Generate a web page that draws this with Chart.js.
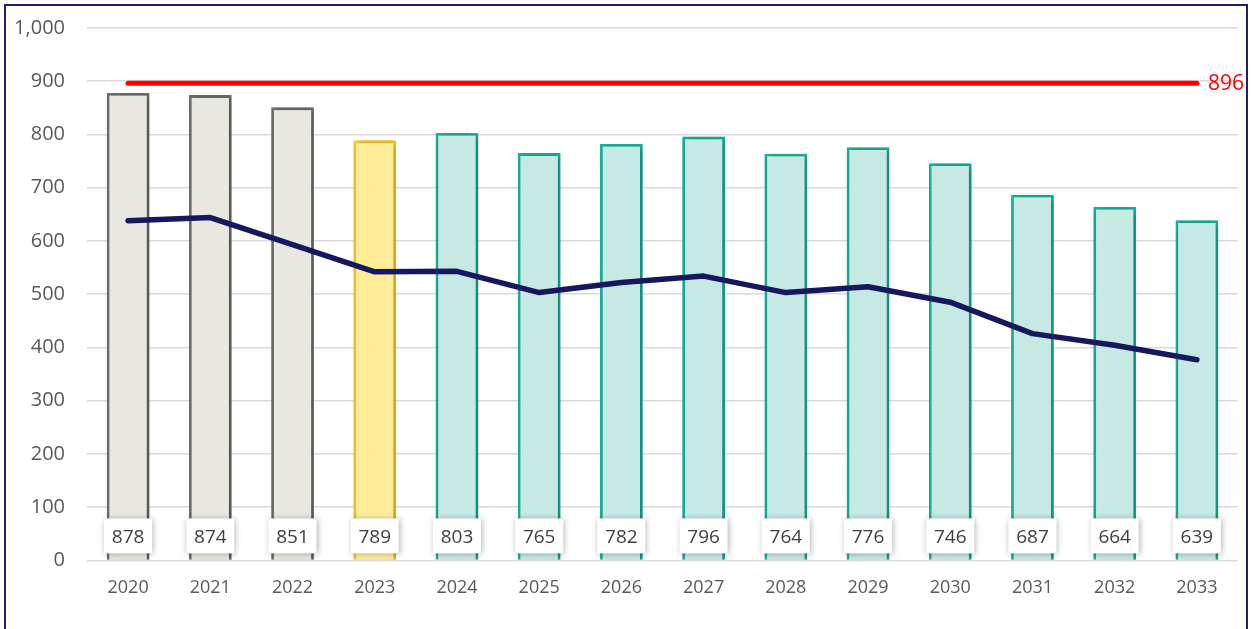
<!DOCTYPE html>
<html>
<head>
<meta charset="utf-8">
<script src="https://cdn.jsdelivr.net/npm/chart.js@4.4.1/dist/chart.umd.min.js"></script>
<style>
  html, body { margin: 0; padding: 0; background: #fff; }
  #wrap { position: absolute; left: 0; top: 0; width: 1254px; height: 629px; }
  #frame { position: absolute; left: 4px; top: 4px; width: 1244px; height: 640px; border: 2px solid #1f1f6b; box-sizing: border-box; pointer-events: none; }
</style>
</head>
<body>
<div id="wrap"><canvas id="chart" width="1254" height="629"></canvas></div>
<div id="frame"></div>
<script>
const years = ['2020', '2021', '2022', '2023', '2024', '2025', '2026', '2027', '2028', '2029', '2030', '2031', '2032', '2033'];
const barValues = [878, 874, 851, 789, 803, 765, 782, 796, 764, 776, 746, 687, 664, 639];
const lineValues = [638, 644, 593, 542, 543, 503, 522, 534, 503, 514, 485, 426, 404, 377];
const targetValue = 896;
const yTicks = [0, 100, 200, 300, 400, 500, 600, 700, 800, 900, 1000];

const fontFamily = '"Open Sans", sans-serif';

// bar colours: actual (grey), current (yellow), forecast (teal)
const fillColors = years.map((y, i) => i < 3 ? '#e8e7e0' : (i === 3 ? '#ffed99' : '#c6e9e3'));
const strokeColors = years.map((y, i) => i < 3 ? '#707070' : (i === 3 ? '#ffd21e' : '#14b8a0'));

const shadowPlugin = {
  id: 'barShadow',
  beforeDatasetDraw(chart, args) {
    if (args.meta.type === 'bar') {
      const ctx = chart.ctx;
      ctx.save();
      ctx.shadowColor = 'rgba(0,0,0,0.35)';
      ctx.shadowBlur = 8;
      ctx.shadowOffsetX = 2;
      ctx.shadowOffsetY = 1;
    }
  },
  afterDatasetDraw(chart, args) {
    if (args.meta.type === 'bar') chart.ctx.restore();
  }
};

const labelPlugin = {
  id: 'valueBoxes',
  afterDatasetsDraw(chart) {
    const ctx = chart.ctx;
    const x = chart.scales.x;
    const bottom = chart.chartArea.bottom;
    ctx.save();
    ctx.font = '19px ' + fontFamily;
    ctx.textAlign = 'center';
    ctx.textBaseline = 'middle';
    barValues.forEach((v, i) => {
      const cx = x.getPixelForValue(i);
      const cy = bottom - 24;
      ctx.save();
      ctx.shadowColor = 'rgba(0,0,0,0.3)';
      ctx.shadowBlur = 6;
      ctx.shadowOffsetX = 1;
      ctx.shadowOffsetY = 1;
      ctx.fillStyle = '#ffffff';
      ctx.fillRect(cx - 24, cy - 18, 48, 35);
      ctx.restore();
      ctx.fillStyle = '#404040';
      ctx.fillText(String(v), cx, cy + 1);
    });
    // target label
    const meta = chart.getDatasetMeta(2);
    const last = meta.data[meta.data.length - 1];
    ctx.fillStyle = '#ff0000';
    ctx.font = '21px ' + fontFamily;
    ctx.textAlign = 'left';
    ctx.fillText(String(targetValue), last.x + 11, last.y + 1);
    ctx.restore();
  }
};

new Chart(document.getElementById('chart'), {
  type: 'bar',
  data: {
    labels: years,
    datasets: [
      {
        type: 'line',
        data: lineValues,
        borderColor: '#16185f',
        borderWidth: 5.5,
        pointRadius: 0,
        borderCapStyle: 'round',
        borderJoinStyle: 'round',
        tension: 0,
        order: 1
      },
      {
        type: 'bar',
        data: barValues,
        backgroundColor: fillColors,
        borderColor: strokeColors,
        borderWidth: 2.8,
        categoryPercentage: 1,
        barPercentage: 0.52,
        order: 3
      },
      {
        type: 'line',
        data: years.map(() => targetValue),
        borderColor: '#ff0000',
        borderWidth: 5,
        pointRadius: 0,
        borderCapStyle: 'round',
        order: 0
      }
    ]
  },
  options: {
    responsive: false,
    animation: false,
    events: [],
    layout: { padding: { top: 28, right: 16, left: 6, bottom: 21 } },
    plugins: { legend: { display: false }, title: { display: false }, tooltip: { enabled: false } },
    scales: {
      x: {
        grid: { display: false },
        border: { display: false },
        ticks: { color: '#595959', font: { family: fontFamily, size: 18 }, padding: 9 }
      },
      y: {
        min: 0,
        max: 1000,
        afterBuildTicks(scale) { scale.ticks = yTicks.map(v => ({ value: v })); },
        afterFit(scale) { scale.width = 81; scale.paddingTop = 0; scale.paddingBottom = 0; },
        grid: { color: '#d9d9d9', lineWidth: 1.5, drawTicks: false },
        border: { display: false },
        ticks: { color: '#595959', font: { family: fontFamily, size: 20 }, padding: 22 }
      }
    }
  },
  plugins: [shadowPlugin, labelPlugin]
});
</script>
</body>
</html>
